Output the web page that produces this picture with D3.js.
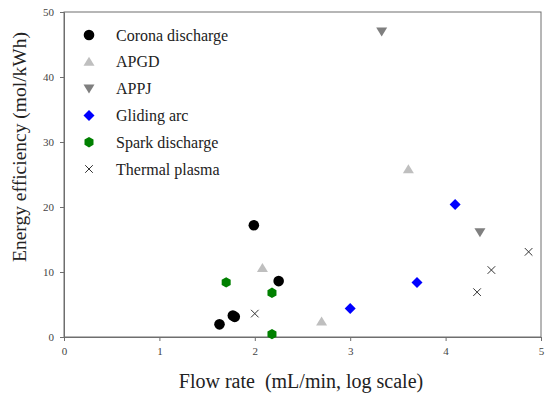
<!DOCTYPE html>
<html>
<head>
<meta charset="utf-8">
<script src="https://cdn.jsdelivr.net/npm/d3@7"></script>
<style>
  body { margin: 0; background: #fff; }
  text { font-family: "Liberation Serif", "Times New Roman", serif; }
</style>
</head>
<body>
<div id="chart"></div>
<script>
// series: [log flow rate, energy efficiency]
var corona = [[1.63, 1.95], [1.77, 3.3], [1.79, 3.1], [1.99, 17.2], [2.25, 8.6]];
var apgd = [[2.08, 10.6], [2.70, 2.4], [3.61, 25.8]];
var appj = [[3.33, 47.0], [4.36, 16.1]];
var gliding = [[3.00, 4.4], [3.70, 8.4], [4.10, 20.4]];
var spark = [[1.70, 8.4], [2.18, 6.8], [2.18, 0.45]];
var thermal = [[2.00, 3.6], [4.33, 6.9], [4.48, 10.3], [4.87, 13.1]];

var seriesNames = ["Corona discharge", "APGD", "APPJ", "Gliding arc", "Spark discharge", "Thermal plasma"];
var xTicks = [0, 1, 2, 3, 4, 5];
var yTicks = [0, 10, 20, 30, 40, 50];

var series = [
    { name: seriesNames[0], data: corona, shape: "circle", color: "#000000" },
    { name: seriesNames[1], data: apgd, shape: "up", color: "#bfbfbf" },
    { name: seriesNames[2], data: appj, shape: "down", color: "#7f7f7f" },
    { name: seriesNames[3], data: gliding, shape: "diamond", color: "#0000ff" },
    { name: seriesNames[4], data: spark, shape: "hex", color: "#008000" },
    { name: seriesNames[5], data: thermal, shape: "cross", color: "#333333" }
];

var margin = { top: 12, right: 9, bottom: 58, left: 64 },
    width = 550 - margin.left - margin.right,
    height = 395 - margin.top - margin.bottom;

var svg = d3.select("#chart").append("svg")
    .attr("width", 550)
    .attr("height", 395);

var g = svg.append("g")
    .attr("transform", "translate(" + margin.left + "," + margin.top + ")");

var x = d3.scaleLinear().domain([0, 5]).range([0, width]);
var y = d3.scaleLinear().domain([0, 50]).range([height, 0]);

// frame
g.append("rect")
    .attr("width", width).attr("height", height)
    .attr("fill", "none").attr("stroke", "#6e6e6e").attr("stroke-width", 1);

var xAxis = g.append("g")
    .attr("transform", "translate(0," + height + ")")
    .call(d3.axisBottom(x).tickValues(xTicks).tickSize(4).tickPadding(6).tickFormat(d3.format("d")));
var yAxis = g.append("g")
    .call(d3.axisLeft(y).tickValues(yTicks).tickSize(4).tickPadding(6).tickFormat(d3.format("d")));

[xAxis, yAxis].forEach(function (a) {
    a.attr("font-family", "Liberation Serif, serif").attr("font-size", 11);
    a.select(".domain").attr("stroke", "#6e6e6e");
    a.selectAll(".tick line").attr("stroke", "#6e6e6e");
    a.selectAll(".tick text").attr("fill", "#444");
});

/*Returns a path or symbol for each marker shape*/
function drawMarker(sel, shape, color) {
    if (shape === "circle") {
        sel.append("circle").attr("r", 5.3).attr("fill", color);
    } else if (shape === "up") {
        sel.append("path").attr("d", "M0,-5L5.5,4L-5.5,4Z").attr("fill", color);
    } else if (shape === "down") {
        sel.append("path").attr("d", "M0,5L5.5,-4L-5.5,-4Z").attr("fill", color);
    } else if (shape === "diamond") {
        sel.append("path").attr("d", "M0,-5.5L5.5,0L0,5.5L-5.5,0Z").attr("fill", color);
    } else if (shape === "hex") {
        var pts = d3.range(6).map(function (i) {
            var a = Math.PI / 3 * i + Math.PI / 6;
            return [5.2 * Math.cos(a), 5.2 * Math.sin(a)];
        });
        sel.append("path").attr("d", "M" + pts.join("L") + "Z").attr("fill", color);
    } else {
        sel.append("path").attr("d", "M-3.8,-3.8L3.8,3.8M-3.8,3.8L3.8,-3.8")
            .attr("stroke", color).attr("stroke-width", 1).attr("fill", "none");
    }
}

series.forEach(function (s) {
    g.append("g").selectAll("g")
        .data(s.data)
        .enter().append("g")
        .attr("transform", function (d) { return "translate(" + x(d[0]) + "," + y(d[1]) + ")"; })
        .each(function () { drawMarker(d3.select(this), s.shape, s.color); });
});

// legend
var legend = g.append("g").attr("transform", "translate(25,23)");
series.forEach(function (s, i) {
    var row = legend.append("g").attr("transform", "translate(0," + (i * 26.8) + ")");
    drawMarker(row, s.shape, s.color);
    row.append("text")
        .attr("x", 27).attr("y", 5.5)
        .style("font-size", "16px")
        .attr("fill", "#222")
        .text(s.name);
});

// axis titles
svg.append("text")
    .attr("x", 301).attr("y", 388)
    .attr("text-anchor", "middle")
    .style("font-size", "20px")
    .attr("fill", "#222")
    .attr("xml:space", "preserve")
    .text("Flow rate  (mL/min, log scale)");

svg.append("text")
    .attr("transform", "translate(26,147) rotate(-90)")
    .attr("text-anchor", "middle")
    .style("font-size", "19.5px")
    .attr("fill", "#222")
    .text("Energy efficiency (mol/kWh)");
</script>
</body>
</html>
